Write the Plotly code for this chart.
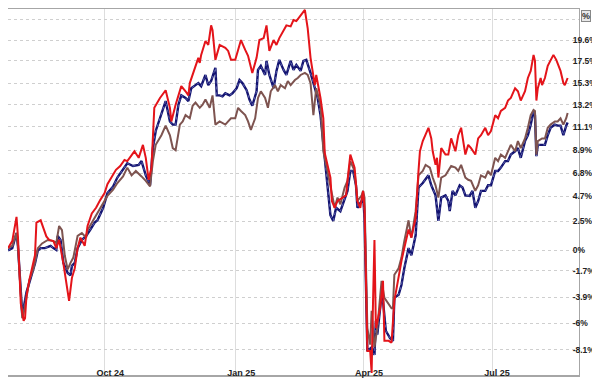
import math
import plotly.graph_objects as go

# ---------------- data (percent change) ----------------
red_dates = [
    "2024-07-25", "2024-07-28", "2024-07-31", "2024-08-01", "2024-08-03", "2024-08-05", "2024-08-06", "2024-08-07", "2024-08-09", "2024-08-12",
    "2024-08-13", "2024-08-14", "2024-08-17", "2024-08-19", "2024-08-21", "2024-08-23", "2024-08-26", "2024-08-28", "2024-08-30", "2024-09-02",
    "2024-09-04", "2024-09-06", "2024-09-08", "2024-09-10", "2024-09-12", "2024-09-14", "2024-09-17", "2024-09-19", "2024-09-22", "2024-09-25",
    "2024-09-28", "2024-10-01", "2024-10-03", "2024-10-06", "2024-10-09", "2024-10-12", "2024-10-15", "2024-10-17", "2024-10-20", "2024-10-22",
    "2024-10-25", "2024-10-28", "2024-10-30", "2024-11-01", "2024-11-03", "2024-11-05", "2024-11-09", "2024-11-13", "2024-11-16", "2024-11-17",
    "2024-11-20", "2024-11-24", "2024-11-27", "2024-11-29", "2024-11-30", "2024-12-02", "2024-12-04", "2024-12-06", "2024-12-07", "2024-12-08",
    "2024-12-11", "2024-12-13", "2024-12-15", "2024-12-16", "2024-12-18", "2024-12-21", "2024-12-25", "2024-12-27", "2024-12-29", "2025-01-01",
    "2025-01-03", "2025-01-05", "2025-01-08", "2025-01-10", "2025-01-13", "2025-01-16", "2025-01-18", "2025-01-21", "2025-01-23", "2025-01-25",
    "2025-01-28", "2025-01-30", "2025-02-01", "2025-02-04", "2025-02-06", "2025-02-09", "2025-02-11", "2025-02-13", "2025-02-16", "2025-02-19",
    "2025-02-21", "2025-02-23", "2025-02-26", "2025-02-27", "2025-03-02", "2025-03-04", "2025-03-05", "2025-03-07", "2025-03-09", "2025-03-10",
    "2025-03-12", "2025-03-14", "2025-03-18", "2025-03-20", "2025-03-21", "2025-03-23", "2025-03-26", "2025-03-28", "2025-03-30", "2025-04-01",
    "2025-04-02", "2025-04-04", "2025-04-06", "2025-04-07", "2025-04-08", "2025-04-09", "2025-04-10", "2025-04-13", "2025-04-15", "2025-04-16",
    "2025-04-19", "2025-04-21", "2025-04-23", "2025-04-26", "2025-04-28", "2025-04-30", "2025-05-03", "2025-05-05", "2025-05-08", "2025-05-10",
    "2025-05-11", "2025-05-13", "2025-05-15", "2025-05-17", "2025-05-19", "2025-05-20", "2025-05-22", "2025-05-23", "2025-05-24", "2025-05-26",
    "2025-05-29", "2025-05-31", "2025-06-02", "2025-06-05", "2025-06-07", "2025-06-09", "2025-06-12", "2025-06-14", "2025-06-16", "2025-06-19",
    "2025-06-21", "2025-06-23", "2025-06-26", "2025-06-28", "2025-06-30", "2025-07-03", "2025-07-05", "2025-07-07", "2025-07-10", "2025-07-12",
    "2025-07-14", "2025-07-17", "2025-07-19", "2025-07-21", "2025-07-24", "2025-07-26", "2025-07-28", "2025-07-30", "2025-07-31", "2025-08-01",
    "2025-08-02", "2025-08-04", "2025-08-05", "2025-08-07", "2025-08-09", "2025-08-11", "2025-08-13", "2025-08-15", "2025-08-18", "2025-08-20",
    "2025-08-21", "2025-08-23",
]
red_pct = [
    0.2, 0.8, 2.9, 1.2, -4.4, -5.8, -5.6, -3.8, -2.5, -0.8,
    -0.4, 2.4, 2.6, 1.9, 1.2, 0.9, 0.8, 0.2, 0.9, -1.1,
    -2.7, -4.2, -2.3, -1.5, 0.2, 1.1, 0.4, 2.1, 3.2, 3.7,
    4.4, 5.0, 5.8, 6.5, 7.1, 7.45, 8.0, 7.9, 8.4, 8.8,
    8.2, 9.4, 8.2, 6.2, 7.3, 12.9, 13.85, 14.6, 12.9, 11.6,
    13.2, 15.0, 14.5, 14.1, 15.3, 16.1, 17.1, 17.8, 17.3, 18.1,
    19.5, 19.1, 21.1, 20.6, 17.6, 19.1, 18.8, 18.5, 17.6, 17.6,
    18.6, 19.6, 18.6, 18.0, 16.3, 17.8, 19.6, 19.8, 21.1, 18.5,
    19.6, 19.1, 19.8, 20.5, 21.1, 21.0, 21.65, 21.55, 22.1, 22.7,
    20.8, 17.8, 15.1, 16.1, 13.85, 11.9, 8.65, 7.55, 6.4, 4.3,
    3.7, 4.3, 4.6, 4.8, 6.1, 8.5, 7.3, 4.3, 3.7, 5.2,
    3.7, -8.2, -8.2, -9.9, -4.2, 0.9, -6.4, -4.8, -2.55, -7.4,
    -7.4, -7.55, -4.2, -2.05, -0.9, 0.2, 1.8, 1.1, 2.8, 7.0,
    8.8, 9.75, 10.3, 11.0, 10.0, 8.8, 7.55, 8.2, 6.4, 9.1,
    8.5, 8.5, 10.0, 8.8, 10.3, 11.0, 8.5, 9.4, 9.1, 8.5,
    10.0, 10.3, 11.0, 10.3, 10.7, 12.2, 11.9, 12.6, 12.9, 13.6,
    13.85, 14.8, 14.5, 13.6, 14.5, 15.8, 16.5, 18.1, 17.5, 13.6,
    14.8, 15.8, 15.1, 15.8, 17.0, 17.5, 18.1, 17.6, 16.5, 15.3,
    15.1, 15.8,
]

blue_dates = [
    "2024-07-25", "2024-07-28", "2024-07-31", "2024-08-01", "2024-08-04", "2024-08-05", "2024-08-07", "2024-08-08", "2024-08-11", "2024-08-13",
    "2024-08-15", "2024-08-17", "2024-08-20", "2024-08-24", "2024-08-26", "2024-08-28", "2024-08-29", "2024-08-31", "2024-09-02", "2024-09-05",
    "2024-09-07", "2024-09-08", "2024-09-10", "2024-09-12", "2024-09-15", "2024-09-18", "2024-09-21", "2024-09-24", "2024-09-26", "2024-09-30",
    "2024-10-03", "2024-10-07", "2024-10-10", "2024-10-14", "2024-10-17", "2024-10-21", "2024-10-25", "2024-10-27", "2024-10-30", "2024-11-02",
    "2024-11-04", "2024-11-06", "2024-11-10", "2024-11-13", "2024-11-16", "2024-11-18", "2024-11-20", "2024-11-22", "2024-11-24", "2024-11-27",
    "2024-11-29", "2024-12-01", "2024-12-04", "2024-12-06", "2024-12-08", "2024-12-11", "2024-12-13", "2024-12-15", "2024-12-18", "2024-12-19",
    "2024-12-21", "2024-12-23", "2024-12-25", "2024-12-28", "2024-12-30", "2025-01-02", "2025-01-04", "2025-01-06", "2025-01-09", "2025-01-11",
    "2025-01-13", "2025-01-16", "2025-01-17", "2025-01-19", "2025-01-22", "2025-01-23", "2025-01-25", "2025-01-28", "2025-01-30", "2025-02-01",
    "2025-02-04", "2025-02-06", "2025-02-09", "2025-02-11", "2025-02-13", "2025-02-16", "2025-02-18", "2025-02-20", "2025-02-23", "2025-02-24",
    "2025-02-26", "2025-02-28", "2025-03-02", "2025-03-04", "2025-03-05", "2025-03-07", "2025-03-09", "2025-03-11", "2025-03-13", "2025-03-16",
    "2025-03-19", "2025-03-21", "2025-03-23", "2025-03-25", "2025-03-27", "2025-03-28", "2025-03-31", "2025-04-01", "2025-04-02", "2025-04-04",
    "2025-04-07", "2025-04-09", "2025-04-10", "2025-04-11", "2025-04-14", "2025-04-15", "2025-04-17", "2025-04-20", "2025-04-22", "2025-04-23",
    "2025-04-26", "2025-04-28", "2025-04-30", "2025-05-03", "2025-05-05", "2025-05-08", "2025-05-10", "2025-05-13", "2025-05-17", "2025-05-19",
    "2025-05-22", "2025-05-24", "2025-05-26", "2025-05-29", "2025-05-31", "2025-06-01", "2025-06-03", "2025-06-05", "2025-06-08", "2025-06-10",
    "2025-06-12", "2025-06-15", "2025-06-17", "2025-06-19", "2025-06-21", "2025-06-23", "2025-06-26", "2025-06-28", "2025-06-30", "2025-07-03",
    "2025-07-05", "2025-07-07", "2025-07-10", "2025-07-12", "2025-07-14", "2025-07-17", "2025-07-19", "2025-07-21", "2025-07-24", "2025-07-26",
    "2025-07-28", "2025-07-30", "2025-07-31", "2025-08-01", "2025-08-02", "2025-08-05", "2025-08-07", "2025-08-09", "2025-08-11", "2025-08-14",
    "2025-08-16", "2025-08-18", "2025-08-20", "2025-08-22", "2025-08-23",
]
blue_pct = [
    0.0, 0.2, 1.5, 0.4, -5.2, -4.8, -3.5, -3.1, -2.1, -1.1,
    0.0, 0.2, 0.2, 0.4, 0.2, 0.05, 1.25, 0.9, -1.05, -1.9,
    -2.1, -1.3, -1.05, 0.2, 0.9, 1.25, 1.8, 2.4, 2.6, 3.7,
    5.0, 5.6, 6.4, 7.1, 7.7, 7.45, 7.55, 7.9, 6.6, 5.7,
    9.1, 10.7, 12.2, 13.55, 11.6, 11.3, 11.3, 13.2, 14.1, 13.85,
    13.55, 14.8, 15.1, 15.3, 15.0, 16.1, 15.1, 15.5, 16.8, 14.1,
    14.1, 14.0, 14.3, 14.1, 14.3, 14.8, 15.6, 15.3, 14.6, 13.7,
    13.1, 14.5, 16.6, 17.0, 16.1, 17.5, 16.1, 14.8, 16.5, 17.6,
    16.6, 16.1, 17.5, 16.6, 17.1, 16.5, 17.5, 17.6, 16.3, 15.8,
    14.8, 13.85, 12.2, 9.4, 8.2, 5.9, 3.05, 2.55, 3.7, 3.4,
    4.6, 5.2, 7.0, 7.0, 5.7, 3.7, 4.3, 4.8, 2.8, -8.2,
    -7.9, -8.5, -5.8, -6.9, -3.7, -4.2, -6.6, -7.2, -7.4, -3.95,
    -3.7, -2.9, -1.5, 0.2, -0.4, 1.3, 5.5, 5.9, 6.6, 5.7,
    4.8, 2.55, 4.6, 4.8, 4.3, 3.4, 5.2, 4.8, 5.7, 5.5,
    4.8, 4.75, 5.2, 3.7, 4.3, 5.2, 5.2, 5.7, 5.7, 7.0,
    7.0, 7.3, 7.9, 7.9, 8.5, 8.8, 9.1, 8.2, 9.75, 10.3,
    11.3, 12.6, 12.2, 8.35, 9.4, 9.4, 9.4, 10.3, 11.0, 11.3,
    11.2, 11.2, 10.3, 11.2, 11.5,
]

brown_dates = [
    "2024-07-25", "2024-07-28", "2024-07-31", "2024-08-01", "2024-08-04", "2024-08-05", "2024-08-07", "2024-08-09", "2024-08-12", "2024-08-15",
    "2024-08-18", "2024-08-22", "2024-08-26", "2024-08-28", "2024-08-30", "2024-09-01", "2024-09-03", "2024-09-05", "2024-09-07", "2024-09-09",
    "2024-09-12", "2024-09-15", "2024-09-18", "2024-09-19", "2024-09-23", "2024-09-26", "2024-09-30", "2024-10-03", "2024-10-07", "2024-10-10",
    "2024-10-14", "2024-10-17", "2024-10-20", "2024-10-23", "2024-10-27", "2024-10-30", "2024-11-02", "2024-11-04", "2024-11-06", "2024-11-10",
    "2024-11-13", "2024-11-16", "2024-11-18", "2024-11-20", "2024-11-23", "2024-11-25", "2024-11-27", "2024-11-30", "2024-12-02", "2024-12-04",
    "2024-12-07", "2024-12-09", "2024-12-11", "2024-12-14", "2024-12-16", "2024-12-18", "2024-12-21", "2024-12-25", "2024-12-27", "2024-12-29",
    "2025-01-01", "2025-01-03", "2025-01-05", "2025-01-08", "2025-01-10", "2025-01-12", "2025-01-15", "2025-01-17", "2025-01-19", "2025-01-22",
    "2025-01-24", "2025-01-26", "2025-01-29", "2025-01-31", "2025-02-02", "2025-02-05", "2025-02-07", "2025-02-09", "2025-02-12", "2025-02-14",
    "2025-02-16", "2025-02-19", "2025-02-21", "2025-02-23", "2025-02-25", "2025-02-27", "2025-03-02", "2025-03-03", "2025-03-04", "2025-03-06",
    "2025-03-09", "2025-03-11", "2025-03-12", "2025-03-14", "2025-03-16", "2025-03-19", "2025-03-21", "2025-03-23", "2025-03-26", "2025-03-28",
    "2025-03-31", "2025-04-01", "2025-04-02", "2025-04-04", "2025-04-06", "2025-04-07", "2025-04-08", "2025-04-09", "2025-04-11", "2025-04-14",
    "2025-04-16", "2025-04-19", "2025-04-21", "2025-04-22", "2025-04-23", "2025-04-26", "2025-04-28", "2025-04-30", "2025-05-03", "2025-05-05",
    "2025-05-08", "2025-05-10", "2025-05-13", "2025-05-15", "2025-05-18", "2025-05-20", "2025-05-22", "2025-05-24", "2025-05-26", "2025-05-29",
    "2025-05-31", "2025-06-02", "2025-06-05", "2025-06-07", "2025-06-09", "2025-06-12", "2025-06-14", "2025-06-16", "2025-06-19", "2025-06-21",
    "2025-06-23", "2025-06-26", "2025-06-28", "2025-06-30", "2025-07-03", "2025-07-05", "2025-07-07", "2025-07-10", "2025-07-12", "2025-07-14",
    "2025-07-17", "2025-07-19", "2025-07-21", "2025-07-24", "2025-07-26", "2025-07-28", "2025-07-30", "2025-07-31", "2025-08-01", "2025-08-02",
    "2025-08-05", "2025-08-07", "2025-08-09", "2025-08-11", "2025-08-14", "2025-08-16", "2025-08-18", "2025-08-20", "2025-08-22", "2025-08-23",
]
brown_pct = [
    0.2, 0.4, 1.5, 0.4, -5.6, -5.2, -3.95, -2.5, -1.5, 0.2,
    0.6, 0.9, 0.8, 0.65, 2.1, 1.75, -0.45, -1.6, -1.05, -0.6,
    1.25, 1.5, 1.1, 1.75, 2.6, 3.25, 4.0, 4.75, 5.3, 5.9,
    6.5, 7.3, 6.6, 7.0, 6.5, 6.1, 5.6, 7.9, 9.4, 10.3,
    11.2, 10.3, 9.1, 8.9, 11.3, 11.6, 12.2, 11.9, 13.1, 13.4,
    12.9, 13.2, 13.7, 12.9, 14.1, 11.3, 11.6, 11.3, 11.6, 11.9,
    11.9, 12.9, 12.6, 12.2, 11.6, 10.8, 11.9, 13.85, 14.5, 13.85,
    12.9, 14.5, 15.1, 14.5, 15.1, 14.8, 15.5, 15.1, 15.6, 15.8,
    16.1, 16.3, 16.1, 15.3, 12.2, 14.8, 13.2, 11.0, 8.8, 7.55,
    5.5, 4.3, 3.7, 4.6, 4.0, 5.5, 6.1, 7.9, 7.0, 4.3,
    4.8, 5.2, 4.6, -6.4, -7.7, -5.0, -6.9, -7.9, -6.4, -2.55,
    -3.95, -4.5, -4.8, -4.8, -2.05, -1.5, -0.6, 0.8, 2.6, 1.1,
    3.4, 6.6, 7.0, 7.55, 7.3, 6.4, 5.7, 4.6, 6.4, 6.6,
    7.0, 7.45, 7.3, 7.0, 7.55, 6.4, 6.2, 6.1, 5.2, 5.7,
    6.6, 6.4, 7.0, 6.6, 8.2, 7.9, 8.5, 8.2, 8.8, 9.4,
    8.8, 9.75, 9.1, 10.0, 11.0, 12.2, 12.7, 12.6, 8.5, 9.75,
    10.0, 10.0, 11.0, 11.3, 11.6, 11.6, 11.9, 11.3, 11.9, 12.4,
]

y_tick_pct = [21.7, 19.6, 17.5, 15.3, 13.2, 11.1, 8.9, 6.8, 4.7, 2.5, 0, -1.7, -3.9, -6, -8.1]
y_tick_text = ["", "19.6%", "17.5%", "15.3%", "13.2%", "11.1%", "8.9%", "6.8%", "4.7%",
               "2.5%", "0%", "-1.7%", "-3.9%", "-6%", "-8.1%"]
x_tick_dates = ["2024-10-01", "2025-01-01", "2025-04-01", "2025-07-01"]
x_tick_text = ["Oct 24", "Jan 25", "Apr 25", "Jul 25"]


def growth(values):
    return [1 + v / 100.0 for v in values]


fig = go.Figure()
fig.add_trace(go.Scatter(x=blue_dates, y=growth(blue_pct), mode="lines",
                         line=dict(color="#121270", width=2.4), hoverinfo="skip"))
fig.add_trace(go.Scatter(x=blue_dates, y=growth(blue_pct), mode="lines",
                         line=dict(color="#8c96d2", width=0.6, dash="dot"), hoverinfo="skip"))
fig.add_trace(go.Scatter(x=brown_dates, y=growth(brown_pct), mode="lines",
                         line=dict(color="#7e5450", width=2), hoverinfo="skip"))
fig.add_trace(go.Scatter(x=red_dates, y=growth(red_pct), mode="lines",
                         line=dict(color="#e4141a", width=2), hoverinfo="skip"))

x_font = dict(family="Liberation Sans, Arial, sans-serif", size=9, color="#222222", weight="bold")
y_font = dict(family="Liberation Sans, Arial, sans-serif", size=8.5, color="#222222", weight="bold")

fig.update_layout(
    width=600, height=380,
    margin=dict(l=0, r=29, t=1, b=13),
    paper_bgcolor="white", plot_bgcolor="white",
    showlegend=False,
    xaxis=dict(
        type="date",
        range=["2024-07-25", "2025-08-31"],
        tickvals=x_tick_dates, ticktext=x_tick_text,
        ticks="", ticklen=0, ticklabelstandoff=-12, ticklabelshift=-9,
        ticklabelposition="outside right",
        tickfont=x_font,
        showgrid=True, gridcolor="#dddddd", gridwidth=1,
        showline=True, linecolor="#a6a6a6", linewidth=2, mirror=True,
        zeroline=False,
    ),
    yaxis=dict(
        type="log", side="right",
        range=[math.log10(0.8995), math.log10(1.228)],
        tickvals=growth(y_tick_pct), ticktext=y_tick_text,
        ticks="", ticklen=0, ticklabelstandoff=-9,
        tickfont=y_font,
        showgrid=True, gridcolor="#cfcfcf", gridwidth=1, griddash="dot",
        showline=True, linecolor="#a6a6a6", linewidth=1,
        zeroline=False,
    ),
)

fig.add_annotation(
    xref="paper", yref="paper", x=1.0, y=1.0, xshift=2, yshift=-1,
    xanchor="left", yanchor="top", showarrow=False,
    text="<b>%</b>", font=dict(family="Liberation Sans, Arial, sans-serif", size=9, color="#333333"),
    bgcolor="#e8e8e8", bordercolor="#888888", borderwidth=1, borderpad=0,
)

fig.write_html("out.html")
